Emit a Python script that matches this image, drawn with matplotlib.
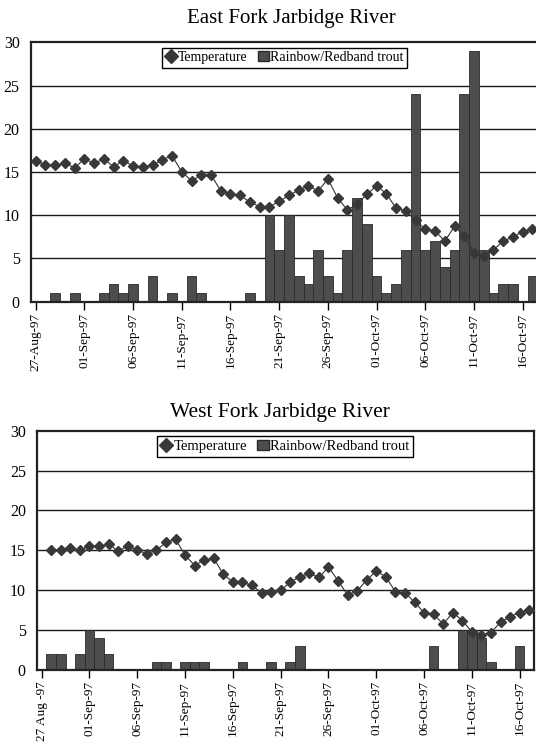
import matplotlib
matplotlib.use("Agg")
import matplotlib.pyplot as plt
from matplotlib.lines import Line2D
from matplotlib.patches import Patch
import numpy as np

plt.rcParams['font.family'] = ['Liberation Serif', 'DejaVu Serif']

# Days since 27-Aug-97 (0 .. 51 -> 27-Aug .. 17-Oct)
days = list(range(52))
tick_days = [0, 5, 10, 15, 20, 25, 30, 35, 40, 45, 50]
east_tick_labels = ['27-Aug-97', '01-Sep-97', '06-Sep-97', '11-Sep-97', '16-Sep-97',
                    '21-Sep-97', '26-Sep-97', '01-Oct-97', '06-Oct-97', '11-Oct-97', '16-Oct-97']
west_tick_labels = ['27 Aug -97', '01-Sep-97', '06-Sep-97', '11-Sep-97', '16-Sep-97',
                    '21-Sep-97', '26-Sep-97', '01-Oct-97', '06-Oct-97', '11-Oct-97', '16-Oct-97']

east_temp = [16.3, 15.8, 15.8, 16.0, 15.5, 16.5, 16.0, 16.5, 15.6, 16.3,
             15.7, 15.6, 15.8, 16.4, 16.9, 15.0, 14.0, 14.6, 14.7, 12.8,
             12.5, 12.3, 11.5, 11.0, 11.0, 11.6, 12.3, 12.9, 13.4, 12.8,
             14.2, 12.0, 10.6, 11.3, 12.4, 13.4, 12.5, 10.8, 10.5, 9.4,
             8.4, 8.2, 7.0, 8.7, 7.6, 5.6, 5.3, 6.0, 7.0, 7.5,
             8.1, 8.4]
east_trout = [0, 0, 1, 0, 1, 0, 0, 1, 2, 1,
              2, 0, 3, 0, 1, 0, 3, 1, 0, 0,
              0, 0, 1, 0, 10, 6, 10, 3, 2, 6,
              3, 1, 6, 12, 9, 3, 1, 2, 6, 24,
              6, 7, 4, 6, 24, 29, 6, 1, 2, 2,
              0, 3]

west_temp_days = list(range(1, 52))
west_temp = [15.1, 15.0, 15.3, 15.0, 15.6, 15.5, 15.8, 14.9, 15.6,
             15.0, 14.6, 15.0, 16.0, 16.4, 14.4, 13.1, 13.8, 14.0, 12.0,
             11.0, 11.0, 10.6, 9.7, 9.8, 10.0, 11.0, 11.7, 12.1, 11.6,
             12.9, 11.2, 9.4, 9.9, 11.3, 12.4, 11.7, 9.8, 9.7, 8.5,
             7.2, 7.0, 5.75, 7.2, 6.2, 4.8, 4.4, 4.7, 6.0, 6.7,
             7.2, 7.5]
west_trout = [0, 2, 2, 0, 2, 5, 4, 2, 0, 0,
              0, 0, 1, 1, 0, 1, 1, 1, 0, 0,
              0, 1, 0, 0, 1, 0, 1, 3, 0, 0,
              0, 0, 0, 0, 0, 0, 0, 0, 0, 0,
              0, 3, 0, 0, 5, 5, 4, 1, 0, 0,
              3, 0]

W, H = 536, 748
fig = plt.figure(figsize=(W / 100, H / 100), dpi=100)

BAR_FC = '#4d4d4d'
BAR_EC = '#2a2a2a'
MK_C = '#383838'


def draw(ax, bar_x, bar_y, t_x, t_y, labels, legend_anchor, legend_fs):
    ax.bar(bar_x, bar_y, width=1.0, color=BAR_FC, edgecolor=BAR_EC,
           linewidth=0.6, zorder=2)
    ax.plot(t_x, t_y, color='#333333', lw=0.8, marker='D', ms=4.9,
            mfc=MK_C, mec=MK_C, zorder=3)
    ax.set_ylim(0, 30)
    ax.set_yticks([0, 5, 10, 15, 20, 25, 30])
    ax.set_xlim(-0.5, 51.5)
    ax.set_xticks(tick_days)
    ax.set_xticklabels(labels, rotation=90, fontsize=9.5)
    ax.tick_params(axis='x', direction='out', length=6, width=1, pad=2, colors='black')
    ax.tick_params(axis='y', length=0, labelsize=11.5, pad=8)
    for v in [5, 10, 15, 20, 25]:
        ax.axhline(v, color='#1a1a1a', lw=1.0, zorder=1)
    for s in ax.spines.values():
        s.set_color('#222222')
        s.set_linewidth(1.6)
    handles = [Line2D([], [], marker='D', ls='none', ms=7, mfc=MK_C, mec=MK_C),
               Patch(facecolor=BAR_FC, edgecolor=BAR_EC)]
    leg = ax.legend(handles, ['Temperature', 'Rainbow/Redband trout'], ncol=2,
                    loc='center', bbox_to_anchor=legend_anchor, fontsize=legend_fs,
                    frameon=True, fancybox=False, framealpha=1, edgecolor='black',
                    handlelength=0.8, handletextpad=0.1, columnspacing=0.7,
                    borderpad=0.25, borderaxespad=0)
    leg.get_frame().set_linewidth(1.0)
    leg.set_zorder(5)


# East Fork (top)
ax1 = fig.add_axes([30.8 / W, 1 - 301.7 / H, (537.3 - 30.8) / W, (301.7 - 42.3) / H])
draw(ax1, days, east_trout, days, east_temp, east_tick_labels, (0.501, 0.941), 10)
fig.text(291 / W, 1 - 18 / H, 'East Fork Jarbidge River', ha='center', va='center',
         fontsize=15)

# West Fork (bottom)
ax2 = fig.add_axes([36.9 / W, 1 - 670 / H, (534 - 36.9) / W, (670 - 430.7) / H])
draw(ax2, days, west_trout, west_temp_days, west_temp, west_tick_labels, (0.499, 0.934), 10.5)
fig.text(280 / W, 1 - 413 / H, 'West Fork Jarbidge River', ha='center', va='center',
         fontsize=15.5)

fig.savefig('out.png', dpi=100, facecolor='white')
